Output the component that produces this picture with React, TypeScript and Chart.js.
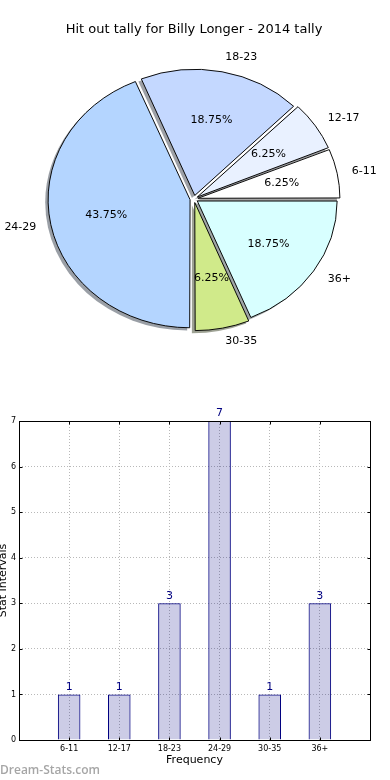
import React, { useEffect, useRef } from "react";
import { Chart, registerables } from "chart.js";

Chart.register(...registerables);
Chart.defaults.font.family = "'DejaVu Sans', sans-serif";

// ---- data ----
const titleText = "Hit out tally for Billy Longer - 2014 tally";
const categories = ["6-11", "12-17", "18-23", "24-29", "30-35", "36+"];
const tallies = [1, 1, 3, 7, 1, 3];
const sliceColors = ["#ffffff", "#e9f1ff", "#c4d8ff", "#b4d5ff", "#d0ea8a", "#d8ffff"];
const yTicks = [0, 1, 2, 3, 4, 5, 6, 7];
const xAxisTitle = "Frequency";
const yAxisTitle = "Stat Intervals";
const watermark = "Dream-Stats.com";

const Y_SCALE = 129 / 143;

function hexToRgb(h: string) {
  const n = parseInt(h.slice(1), 16);
  return [(n >> 16) & 255, (n >> 8) & 255, n & 255];
}

const piePlugin = {
  id: "piePlugin",
  beforeDatasetsDraw(chart: any) {
    const ctx = chart.ctx;
    const arcs = chart.getDatasetMeta(0).data;
    if (!arcs.length) return;
    const cx = arcs[0].x;
    const cy = arcs[0].y;
    ctx.save();
    ctx.translate(cx, cy);
    ctx.scale(1, Y_SCALE);
    ctx.translate(-cx, -cy);
    const colors = chart.data.datasets[0].backgroundColor;
    arcs.forEach((arc: any, i: number) => {
      const { startAngle, endAngle, outerRadius } = arc;
      const circ = endAngle - startAngle;
      const off = (arc.options.offset || 0) / 4;
      const mid = (startAngle + endAngle) / 2;
      const r = outerRadius + off * (1 - Math.sin(Math.min(Math.PI, circ)));
      const ox = cx + Math.cos(mid) * off - 2.9;
      const oy = cy + Math.sin(mid) * off + 2.9;
      const [rr, gg, bb] = hexToRgb(colors[i]);
      ctx.beginPath();
      ctx.moveTo(ox, oy);
      ctx.arc(ox, oy, r, startAngle, endAngle);
      ctx.closePath();
      ctx.fillStyle = `rgba(${Math.round(rr * 0.3)},${Math.round(gg * 0.3)},${Math.round(bb * 0.3)},0.5)`;
      ctx.fill();
    });
  },
  afterDatasetsDraw(chart: any) {
    const ctx = chart.ctx;
    ctx.restore();
    const arcs = chart.getDatasetMeta(0).data;
    if (!arcs.length) return;
    const values = chart.data.datasets[0].data as number[];
    const labels = chart.data.labels as string[];
    const total = values.reduce((a, b) => a + b, 0);
    const cx = arcs[0].x;
    const cy = arcs[0].y;
    ctx.save();
    ctx.fillStyle = "#000";
    ctx.font = "11px 'DejaVu Sans'";
    ctx.textBaseline = "middle";
    arcs.forEach((arc: any, i: number) => {
      const { startAngle, endAngle, outerRadius } = arc;
      const off = (arc.options.offset || 0) / 4;
      const mid = (startAngle + endAngle) / 2;
      const c = Math.cos(mid);
      const s = Math.sin(mid);
      const R = outerRadius + 3;
      const ex = cx + c * off;
      const ey = cy + s * off * Y_SCALE;
      ctx.textAlign = c > 0 ? "left" : "right";
      ctx.fillText(labels[i], ex + c * R * 1.1, ey + s * R * 1.1 * Y_SCALE);
      ctx.textAlign = "center";
      const pct = ((values[i] / total) * 100).toFixed(2) + "%";
      ctx.fillText(pct, ex + c * R * 0.6, ey + s * R * 0.6 * Y_SCALE);
    });
    ctx.restore();
  },
};

const framePlugin = {
  id: "framePlugin",
  afterDatasetsDraw(chart: any) {
    const ctx = chart.ctx;
    const { left, right, top, bottom } = chart.chartArea;
    const xs = chart.scales.x;
    const ys = chart.scales.y;
    ctx.save();
    ctx.strokeStyle = "#000";
    ctx.lineWidth = 1;
    const L = Math.round(left) + 0.5;
    const R = Math.round(right) + 0.5;
    const T = Math.round(top) + 0.5;
    const B = Math.round(bottom) + 0.5;
    ctx.strokeRect(L, T, R - L, B - T);
    ctx.beginPath();
    yTicks.forEach((v) => {
      const y = Math.round(ys.getPixelForValue(v)) + 0.5;
      ctx.moveTo(L, y);
      ctx.lineTo(L + 3, y);
      ctx.moveTo(R, y);
      ctx.lineTo(R - 3, y);
    });
    categories.forEach((_, i) => {
      const x = Math.round(xs.getPixelForValue(i + 1)) + 0.5;
      ctx.moveTo(x, B);
      ctx.lineTo(x, B - 3);
      ctx.moveTo(x, T);
      ctx.lineTo(x, T + 3);
    });
    ctx.stroke();
    // value labels
    const meta = chart.getDatasetMeta(0);
    const data = chart.data.datasets[0].data;
    ctx.fillStyle = "#000080";
    ctx.font = "11px 'DejaVu Sans'";
    ctx.textAlign = "center";
    ctx.textBaseline = "bottom";
    meta.data.forEach((bar: any, i: number) => {
      const v = data[i];
      if (v === null || v === undefined) return;
      ctx.fillText(String(v), bar.x, bar.y - 2);
    });
    ctx.restore();
  },
};

export default function App() {
  const pieRef = useRef<HTMLCanvasElement>(null);
  const barRef = useRef<HTMLCanvasElement>(null);

  useEffect(() => {
    const pieLabels = [...categories].reverse();
    const pieValues = [...tallies].reverse();
    const pieColors = [...sliceColors].reverse();
    const pie = new Chart(pieRef.current as HTMLCanvasElement, {
      type: "pie",
      data: {
        labels: pieLabels,
        datasets: [
          {
            data: pieValues,
            backgroundColor: pieColors,
            borderColor: "#000",
            borderWidth: 1,
            offset: 16,
          } as any,
        ],
      },
      options: {
        animation: false,
        responsive: false,
        rotation: 90,
        radius: 139.5,
        layout: { padding: { left: 0, right: 2, top: 0, bottom: 39.6 } },
        plugins: {
          legend: { display: false },
          tooltip: { enabled: false },
          title: {
            display: true,
            text: titleText,
            color: "#000",
            font: { family: "'DejaVu Sans'", size: 13, weight: "normal" },
            padding: { top: 22, bottom: 10 },
          },
        },
      } as any,
      plugins: [piePlugin],
    });

    const bar = new Chart(barRef.current as HTMLCanvasElement, {
      type: "bar",
      data: {
        labels: ["", ...categories, ""],
        datasets: [
          {
            data: [null, ...tallies, null],
            backgroundColor: "rgba(0,0,128,0.2)",
            borderColor: "#000080",
            borderWidth: 1,
            barPercentage: 0.45,
            categoryPercentage: 1,
          } as any,
        ],
      },
      options: {
        animation: false,
        responsive: false,
        layout: { padding: { top: 31, right: 20, left: 0, bottom: 0 } },
        plugins: { legend: { display: false }, tooltip: { enabled: false } },
        scales: {
          x: {
            type: "category",
            offset: false,
            grid: { offset: false, color: "#b8b8b8", drawTicks: false },
            border: { display: false, dash: [1, 2] },
            ticks: {
              color: "#000",
              font: { size: 8 },
              padding: 4,
              maxRotation: 0,
              autoSkip: false,
            },
            title: {
              display: true,
              text: xAxisTitle,
              color: "#000",
              font: { size: 11 },
              padding: { top: 0, bottom: 13.4 },
            },
            afterFit: (s: any) => {
              s.height = 40;
            },
          },
          y: {
            min: 0,
            max: 7,
            grid: { color: "#b8b8b8", drawTicks: false },
            border: { display: false, dash: [1, 2] },
            ticks: {
              stepSize: 1,
              color: "#000",
              font: { size: 8 },
              padding: 3,
            },
            title: {
              display: true,
              text: yAxisTitle,
              color: "#000",
              font: { size: 11 },
              padding: { top: -3, bottom: 0 },
            },
            afterFit: (s: any) => {
              s.width = 19;
            },
          },
        },
      } as any,
      plugins: [framePlugin],
    });

    return () => {
      pie.destroy();
      bar.destroy();
    };
  }, []);

  return (
    <div
      style={{
        position: "absolute",
        left: 0,
        top: 0,
        width: 390,
        height: 780,
        background: "#fff",
        overflow: "hidden",
      }}
    >
      <canvas
        ref={pieRef}
        width={390}
        height={390}
        style={{ position: "absolute", left: 0, top: 0, width: 390, height: 390 }}
      />
      <canvas
        ref={barRef}
        width={390}
        height={390}
        style={{ position: "absolute", left: 0, top: 390, width: 390, height: 390 }}
      />
      <div
        style={{
          position: "absolute",
          left: 0,
          top: 762,
          fontFamily: "'Open Sans', sans-serif",
          fontWeight: 600,
          fontSize: 12,
          lineHeight: "16px",
          color: "#a6a6a6",
          whiteSpace: "nowrap",
        }}
      >
        {watermark}
      </div>
    </div>
  );
}
